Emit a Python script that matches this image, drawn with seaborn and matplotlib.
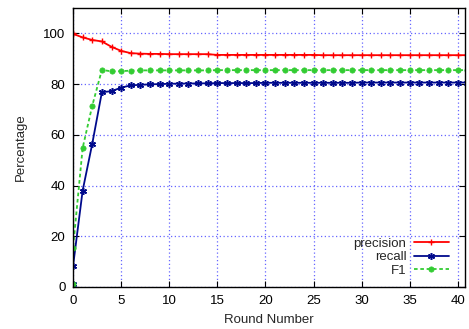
import numpy as np
import pandas as pd
import matplotlib
matplotlib.use("Agg")
import matplotlib.pyplot as plt
import seaborn as sns

# ---- data ----
rounds = [0, 0] + list(range(1, 42))
precision = [100.0, 99.8, 98.4, 97.4, 96.8, 94.7, 93.1, 92.2, 92.0, 91.9, 91.9,
             91.8, 91.8, 91.8, 91.8, 91.8,
             91.5, 91.5, 91.5, 91.5, 91.5, 91.5, 91.5, 91.5, 91.5, 91.5, 91.5,
             91.4, 91.4, 91.4, 91.4, 91.4, 91.4, 91.4, 91.4, 91.4, 91.4, 91.4,
             91.4, 91.4, 91.4, 91.4, 91.4]
recall = [1.0, 8.2, 38.0, 56.5, 76.8, 77.2, 78.6, 79.5, 79.7, 79.9, 80.0,
          80.1, 80.2, 80.2, 80.3, 80.3,
          80.4, 80.4, 80.4, 80.4, 80.4, 80.5, 80.5, 80.5, 80.5, 80.5, 80.5,
          80.5, 80.5, 80.5, 80.5, 80.6, 80.6, 80.6, 80.6, 80.6, 80.6, 80.6,
          80.6, 80.6, 80.6, 80.6, 80.6]
f1 = [1.0, 15.4, 54.8, 71.5, 85.6, 85.0, 85.1, 85.3, 85.4, 85.4, 85.4,
      85.4, 85.4, 85.4, 85.4, 85.4,
      85.5, 85.5, 85.5, 85.5, 85.5, 85.5, 85.5, 85.5, 85.5, 85.5, 85.5,
      85.5, 85.5, 85.5, 85.5, 85.5, 85.5, 85.5, 85.5, 85.5, 85.5, 85.5,
      85.5, 85.5, 85.5, 85.5, 85.5]
series_names = ["precision", "recall", "F1"]
x_ticks = [0, 5, 10, 15, 20, 25, 30, 35, 40]
y_ticks = [0, 20, 40, 60, 80, 100]

sns.set_theme(style="white")
plt.rcParams["font.family"] = ["Liberation Sans", "DejaVu Sans"]

fig = plt.figure(figsize=(4.69, 3.29), dpi=100)
ax = fig.add_axes([0.1557, 0.1277, 0.8358, 0.848])

styles = {
    "precision": dict(color="#ff0000", marker="+", linestyle="-", markersize=5, mew=1.0),
    "recall": dict(color="#000a8c", marker=(6, 2, 0), linestyle="-", markersize=5, mew=1.1),
    "F1": dict(color="#33cc33", marker="o", linestyle=(0, (2, 1.5)), markersize=3.8, mew=0.5),
}
values = {"precision": precision, "recall": recall, "F1": f1}

for name in series_names:
    df = pd.DataFrame({"round": rounds, "value": values[name]})
    st = styles[name]
    sns.lineplot(data=df, x="round", y="value", estimator=None, sort=False,
                 ax=ax, label=name, color=st["color"], marker=st["marker"],
                 linestyle=st["linestyle"], markersize=st["markersize"],
                 markeredgewidth=st["mew"], markeredgecolor=st["color"],
                 linewidth=1.3)

ax.set_xlim(0, 40.75)
ax.set_ylim(0, 110)
ax.set_xticks(x_ticks)
ax.set_yticks(y_ticks)
ax.grid(True, color="#5555ff", linestyle=(0, (1, 2)), linewidth=0.9, alpha=0.9)
ax.tick_params(direction="in", length=4, width=0.8, labelsize=9.5, colors="black",
               top=True, right=True, bottom=True, left=True)
ax.tick_params(axis="y", pad=5.5)
ax.tick_params(axis="x", pad=6)
for s in ax.spines.values():
    s.set_color("black")
    s.set_linewidth(1.0)
ax.set_xlabel("Round Number", fontsize=9.5, labelpad=5)
ax.set_ylabel("Percentage", fontsize=9.5, labelpad=12)

leg = ax.legend(loc="lower right", bbox_to_anchor=(0.975, 0.012), frameon=False,
                markerfirst=False, fontsize=9.5, handlelength=2.6, borderpad=0,
                labelspacing=0.1, handletextpad=0.6)
for t in leg.get_texts():
    t.set_ha("right")

fig.savefig("out.png", dpi=100)
